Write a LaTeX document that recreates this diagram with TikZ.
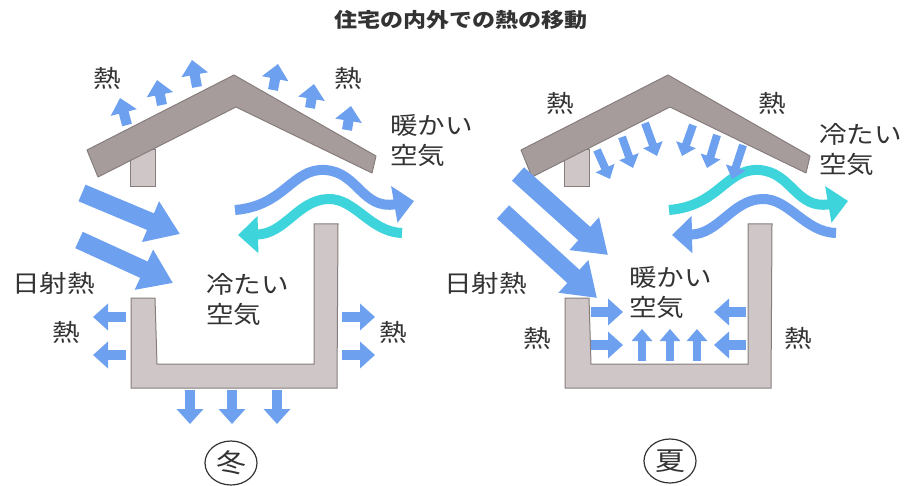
\documentclass[tikz,border=0pt]{standalone}
\usepackage{fontspec}
\setmainfont{Noto Sans CJK JP}[FakeStretch=1.15]
\usetikzlibrary{arrows.meta,shapes.geometric}
\definecolor{roofgray}{HTML}{A69C9C}
\definecolor{wallgray}{HTML}{CFC7C7}
\definecolor{edgegray}{HTML}{877D7D}
\definecolor{heatblue}{HTML}{6EA0F0}
\definecolor{coolcyan}{HTML}{3ED4DC}
\definecolor{txt}{HTML}{333333}

\begin{document}
\begin{tikzpicture}[x=1pt,y=-1pt,
 roof/.style={fill=roofgray,draw=edgegray,line width=1pt,line join=round},
 wall/.style={fill=wallgray,draw=edgegray,line width=1pt},
 sun/.style={draw=heatblue,line width=18pt,-{Triangle[length=32pt,width=42pt]}},
 heat/.style={draw=heatblue,line width=10pt,-{Triangle[length=15pt,width=26pt]}},
 heatsm/.style={draw=heatblue,line width=8pt,-{Triangle[length=12pt,width=20pt]}},
 wave/.style={line width=10pt,-{Triangle[length=20pt,width=36pt]}},
 lbl/.style={text=txt,font=\fontsize{24}{30}\selectfont,inner sep=0pt,align=left},
 season/.style={ellipse,draw=txt,line width=1.2pt,minimum width=52pt,minimum height=44pt,inner sep=0pt,text=txt,font=\fontsize{26}{26}\selectfont}]
\useasboundingbox (0,0) rectangle (904,486);

\node[text=txt,font=\bfseries\fontsize{20}{20}\selectfont] (title) at (461,20) {住宅の内外での熱の移動};

% both houses: chimney, roof, walls and the air flow
\foreach \dx/\up/\down in {0/heatblue/coolcyan,434/coolcyan/heatblue}{
\begin{scope}[shift={(\dx,0)}]
\draw[wall] (130,150) rectangle (155,187);
\draw[roof] (87,150) -- (234,75) -- (376,156) -- (372,173) -- (236,107) -- (98,177) -- cycle;
\draw[wall] (131,298) -- (155,298) -- (157,364) -- (314,364) -- (314,224)
 -- (338,224) -- (337,388) -- (131,388) -- cycle;
\draw[wave,\up] (235,210) .. controls (285,206) and (292,168) .. (325,170)
 .. controls (358,172) and (362,210) .. (414,201);
\draw[wave,\down] (402,233) .. controls (370,232) and (355,198) .. (328,199)
 .. controls (298,200) and (285,234) .. (238,235);
\end{scope}
}

\begin{scope} %winter
\draw[sun] (82,193) -- (180,234);
\draw[sun] (79,240) -- (173,283);
\foreach \bx/\by/\tx/\ty in {127/125/120/98,162/105/157/80,197/87/192/60,
 273/90/278/64,310/108/314/84,347/130/351/106}
 \draw[heat] (\bx,\by) -- (\tx,\ty);
\foreach \y in {317,355}{
 \draw[heat] (126,\y) -- (93,\y);
 \draw[heat] (342,\y) -- (375,\y);
}
\foreach \x in {190,232,277}
 \draw[heat] (\x,390) -- (\x,424);
\node[lbl] (w-heat-tl) at (107,78) {熱};
\node[lbl] (w-heat-tr) at (348,78) {熱};
\node[lbl,anchor=west] (w-warm) at (390,141) {暖かい\\空気};
\node[lbl,anchor=west] (w-cold) at (206,300) {冷たい\\空気};
\node[lbl,anchor=west] (w-sun) at (12,283) {日射熱};
\node[lbl] (w-heat-l) at (66,332) {熱};
\node[lbl] (w-heat-r) at (393,332) {熱};
\node[season] (winter) at (231,463) {冬};
\end{scope}

\begin{scope} %summer
\draw[sun] (518,174) -- (608,255);
\draw[sun] (503,212) -- (597,298);
\foreach \bx/\by/\tx/\ty in {597/150/610/179,622/137/633/168,645/123/657/156,
 693/125/682/156,717/135/707/168,743/145/732/179}
 \draw[heatsm] (\bx,\by) -- (\tx,\ty);
\foreach \y in {312,345}{
 \draw[heat] (591,\y) -- (623,\y);
 \draw[heat] (746,\y) -- (714,\y);
}
\foreach \x in {642,670,697}
 \draw[heatsm] (\x,361) -- (\x,329);
\node[lbl] (s-heat-tl) at (560,103) {熱};
\node[lbl] (s-heat-tr) at (772,103) {熱};
\node[lbl,anchor=west] (s-cold) at (819,150) {冷たい\\空気};
\node[lbl,anchor=west] (s-warm) at (629,293) {暖かい\\空気};
\node[lbl,anchor=west] (s-sun) at (444,283) {日射熱};
\node[lbl] (s-heat-l) at (537,338) {熱};
\node[lbl] (s-heat-r) at (798,338) {熱};
\node[season] (summer) at (670,461) {夏};
\end{scope}

\end{tikzpicture}
\end{document}
